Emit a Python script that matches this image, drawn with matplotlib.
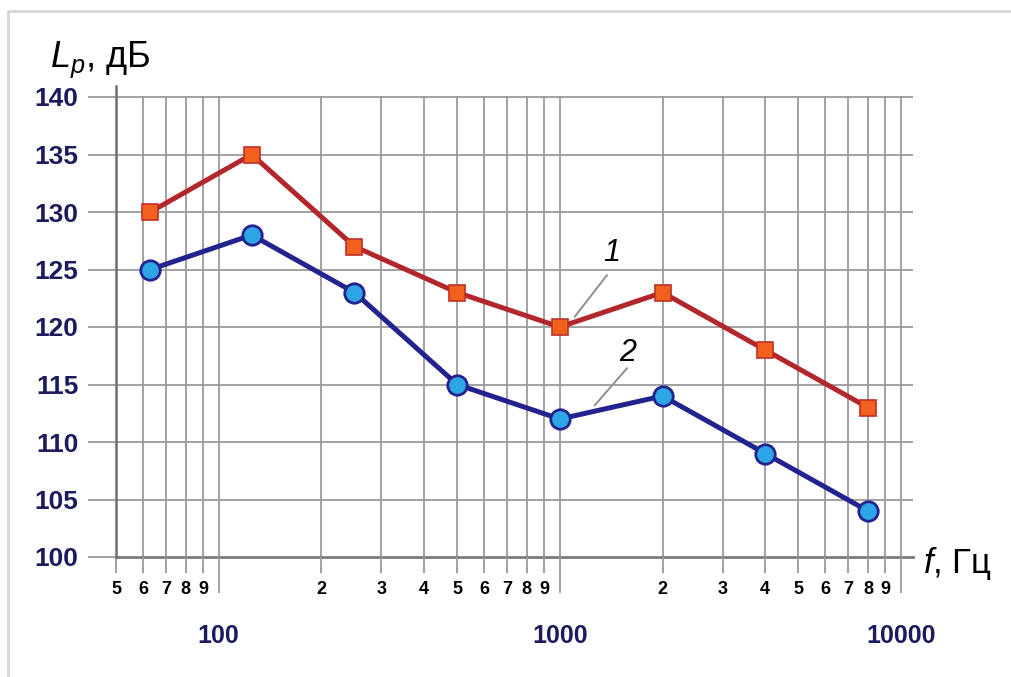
import matplotlib.pyplot as plt
import matplotlib.ticker as mticker
from matplotlib.lines import Line2D

# octave-band centre frequencies, Hz
freq = [63, 125, 250, 500, 1000, 2000, 4000, 8000]
# sound power level, dB
level_1 = [130, 135, 127, 123, 120, 123, 118, 113]
level_2 = [125, 128, 123, 115, 112, 114, 109, 104]

y_ticks = [100, 105, 110, 115, 120, 125, 130, 135, 140]
major_f = [100, 1000, 10000]
minor_f = [m * d for d in (10, 100, 1000) for m in range(2, 10) if m * d >= 50]

plt.rcParams['mathtext.fontset'] = 'custom'
plt.rcParams['mathtext.it'] = 'Liberation Sans:italic'
plt.rcParams['mathtext.rm'] = 'Liberation Sans'
navy = '#1b1b5e'
grid_c = '#9a9a9a'

W, H = 1011, 677
fig = plt.figure(figsize=(W / 100, H / 100), dpi=100)

# light frame around the picture
fig.add_artist(Line2D([8 / W, 8 / W, 1], [0, 1 - 11 / H, 1 - 11 / H],
                      transform=fig.transFigure, color='#d6d6d6', lw=2))

left, right = 116, 913
top, bottom = 85.5, 557
ax = fig.add_axes([left / W, 1 - bottom / H, (right - left) / W, (bottom - top) / H])

ax.set_xscale('log')
ax.set_xlim(50, 10 ** (4 + 12 / 341))
ax.set_ylim(100, 141)

ax.xaxis.set_major_locator(mticker.FixedLocator(major_f))
ax.xaxis.set_minor_locator(mticker.FixedLocator(minor_f))
ax.xaxis.set_major_formatter(mticker.FixedFormatter([str(v) for v in major_f]))
ax.xaxis.set_minor_formatter(mticker.FixedFormatter([str(v)[0] for v in minor_f]))
ax.set_yticks(y_ticks)

# grid: horizontal every 5 dB up to 140, vertical at every 1..9 x decade
for yv in y_ticks[1:]:
    ax.plot([50, ax.get_xlim()[1]], [yv, yv], color=grid_c, lw=1.3, zorder=1)
for xv in major_f + minor_f:
    ax.plot([xv, xv], [100, 140], color=grid_c, lw=1.3, zorder=1)

for s in ['top', 'right']:
    ax.spines[s].set_visible(False)
ax.spines['left'].set_color('#6e6e6e')
ax.spines['left'].set_linewidth(1.8)
ax.spines['bottom'].set_color('#7a7a7a')
ax.spines['bottom'].set_linewidth(2.0)
ax.spines['bottom'].set_zorder(1.5)

ax.tick_params(axis='y', length=20, width=1.3, color=grid_c, pad=7,
               labelsize=19, labelcolor=navy)
ax.tick_params(axis='x', which='minor', length=11.5, width=1.3, color=grid_c,
               pad=6, labelsize=13)
ax.tick_params(axis='x', which='major', length=26, width=1.3, color=grid_c,
               pad=22, labelsize=18, labelcolor=navy)
for lab in (ax.get_yticklabels() + ax.get_xticklabels()
            + ax.get_xticklabels(minor=True)):
    lab.set_family('Liberation Sans')
    lab.set_fontweight('bold')

ax.plot(freq, level_1, color='#b3262b', lw=3.6, marker='s', ms=11,
        mfc='#f2601e', mec='#c0302a', mew=1.2, zorder=4, clip_on=False)
ax.plot(freq, level_2, color='#23238f', lw=3.6, marker='o', ms=14,
        mfc='#2ea6e6', mec='#23238f', mew=2.0, zorder=4, clip_on=False)

# curve numbers with leader lines
ax.plot([1374, 1106], [124.5, 120.9], color='#8f8f8f', lw=1.4, zorder=3)
ax.plot([1572, 1266], [116.4, 113.2], color='#8f8f8f', lw=1.4, zorder=3)
ax.text(1420, 126.4, '1', fontsize=22, style='italic', family='Liberation Sans',
        ha='center', va='center')
ax.text(1582, 117.7, '2', fontsize=22, style='italic', family='Liberation Sans',
        ha='center', va='center')

fig.text(50 / W, 1 - 67 / H, r'$L_p$, дБ', fontsize=26, family='Liberation Sans',
         ha='left', va='baseline')
fig.text(923 / W, 1 - 573 / H, r'$f$, Гц', fontsize=25, family='Liberation Sans',
         ha='left', va='baseline')

fig.savefig('out.png', dpi=100)
